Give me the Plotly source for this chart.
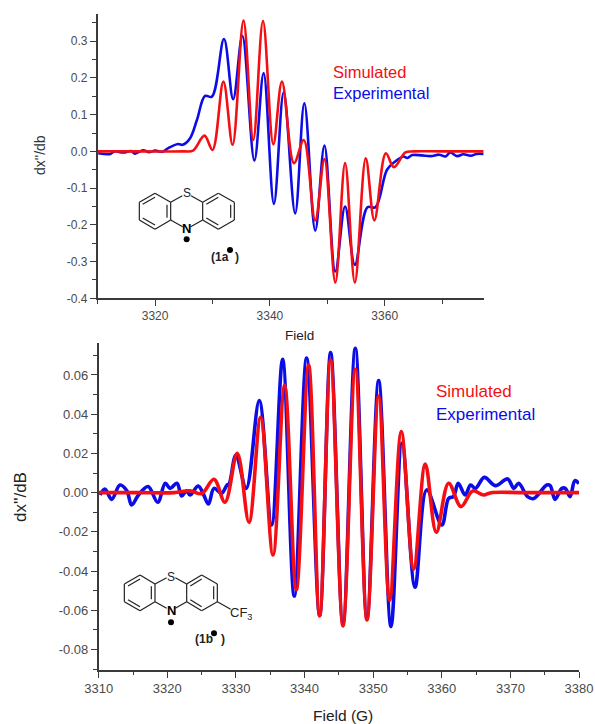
import plotly.graph_objects as go

W, H = 595, 724
RED = "#f40f14"
BLUE = "#0c0ce6"
AXC = "#3a3a3a"
TXT = "#4a4a4a"
FONT = "Liberation Sans, Arial, sans-serif"

# ---------- upper panel (1a) ----------
a_exp_x = [3310.1, 3312.2, 3312.9, 3314.5, 3315.8, 3316.5, 3317.9, 3319.0, 3320.0, 3321.3, 3322.3, 3324.0, 3324.8, 3326.1, 3327.3, 3328.7, 3329.9, 3332.0, 3333.6, 3335.2, 3337.3, 3338.9, 3340.7, 3342.4, 3344.4, 3346.0, 3347.9, 3349.5, 3351.4, 3353.1, 3354.8, 3357.0, 3358.4, 3360.4, 3361.8, 3363.3, 3363.9, 3364.8, 3366.5, 3368.0, 3369.5, 3370.6, 3371.4, 3372.6, 3373.7, 3375.0, 3376.0, 3377.2]
a_exp_y = [-.005, -.007, .0, -.003, .001, -.006, .003, -.002, .002, -.001, .009, .020, .018, .036, .086, .151, .149, .306, .142, .314, -.025, .213, -.143, .161, -.169, .131, -.216, .016, -.327, -.150, -.309, -.152, -.152, -.050, -.028, -.014, -.018, -.010, -.011, -.013, -.009, -.014, -.003, -.013, -.008, -.012, -.007, -.007]
a_sim_x = [3310, 3318, 3325, 3326.6, 3328.6, 3330.0, 3331.9, 3333.5, 3335.4, 3337.1, 3338.8, 3340.6, 3342.1, 3344.2, 3345.9, 3347.9, 3349.5, 3351.4, 3353.1, 3354.8, 3356.7, 3358.2, 3360.2, 3361.6, 3363.6, 3365, 3370, 3377.2]
a_sim_y = [0, 0, 0, .002, .043, .004, .190, .018, .356, .031, .355, .019, .190, -.032, .031, -.188, -.021, -.357, -.032, -.357, -.019, -.188, -.005, -.043, -.003, 0, 0, 0]

# ---------- lower panel (1b) ----------
b_exp_x = [3310.2, 3310.9, 3311.9, 3313.1, 3314.1, 3314.8, 3315.8, 3317.2, 3318.6, 3319.7, 3320.4, 3321.4, 3322.1, 3322.8, 3323.3, 3324.5, 3325.2, 3326.0, 3326.8, 3327.9, 3328.7, 3329.0, 3330.0, 3331.5, 3333.4, 3335.2, 3336.8, 3338.5, 3340.3, 3342.2, 3343.8, 3345.6, 3347.4, 3349.1, 3350.8, 3352.6, 3354.2, 3356.1, 3357.8, 3360.0, 3361.0, 3361.7, 3362.4, 3363.4, 3364.2, 3364.9, 3366.2, 3367.8, 3369.6, 3370.5, 3371.2, 3372.5, 3373.4, 3375.3, 3375.8, 3376.5, 3377.5, 3378.0, 3378.7, 3379.4, 3380.0]
b_exp_y = [-.0012, .0019, -.0034, .0039, .0010, -.0063, -.0012, .0031, -.0049, .0048, .0022, .0048, -.0017, .0010, -.0012, .0034, -.0003, -.0058, .0022, -.0003, .0039, .0044, .0192, .0022, .0469, -.0165, .0680, -.0527, .0686, -.0625, .0714, -.0666, .0736, -.0640, .0571, -.0683, .0253, -.0482, .0014, -.0165, -.0029, -.0020, .0048, -.0012, .0039, .0022, .0078, .0036, .0070, .0022, .0048, -.0020, -.0030, .0039, .0036, -.0034, .0022, .0022, -.0020, .0061, .0047]
b_sim_x = [3310, 3316, 3321, 3323.3, 3325.0, 3326.8, 3328.4, 3330.2, 3331.9, 3333.6, 3335.4, 3337.1, 3338.8, 3340.6, 3342.2, 3343.8, 3345.6, 3347.4, 3349.1, 3350.8, 3352.4, 3354.1, 3355.9, 3357.6, 3359.2, 3361.0, 3362.8, 3364.5, 3366.1, 3367.2, 3372, 3380]
b_sim_y = [0, 0, 0, .0010, -.0005, .0068, -.0049, .0201, -.0151, .0384, -.0318, .0549, -.0496, .0651, -.0628, .0676, -.0679, .0629, -.0649, .0493, -.0550, .0311, -.0389, .0146, -.0202, .0048, -.0071, .0009, -.0012, 0, 0, 0]

# ---------- tick labels ----------
a_xticks = [3320, 3340, 3360]
a_yticks = [-.4, -.3, -.2, -.1, 0, .1, .2, .3]
a_ylabels = ["-0.4", "-0.3", "-0.2", "-0.1", "0.0", "0.1", "0.2", "0.3"]
b_xticks = [3310, 3320, 3330, 3340, 3350, 3360, 3370, 3380]
b_yticks = [-.08, -.06, -.04, -.02, 0, .02, .04, .06]
b_ylabels = ["-0.08", "-0.06", "-0.04", "-0.02", "0.00", "0.02", "0.04", "0.06"]

fig = go.Figure()
def line(x, y, c, w, name, ax):
    fig.add_trace(go.Scatter(x=x, y=y, mode="lines", name=name, xaxis=ax[0], yaxis=ax[1],
                             line=dict(color=c, width=w, shape="spline", smoothing=1.0)))
line(a_exp_x, a_exp_y, BLUE, 2.6, "Experimental", ("x", "y"))
line(a_sim_x, a_sim_y, RED, 2.6, "Simulated", ("x", "y"))
line(b_exp_x, b_exp_y, BLUE, 3.6, "Experimental", ("x2", "y2"))
line(b_sim_x, b_sim_y, RED, 3.6, "Simulated", ("x2", "y2"))

def axis(**kw):
    d = dict(showgrid=False, zeroline=False, showline=True, linecolor=AXC, linewidth=1.5,
             ticks="outside", tickcolor=AXC, tickwidth=1.2, ticklen=6, automargin=False)
    d.update(kw)
    return d

shapes, annos = [], []
def px(x): return x / W
def py(y): return 1 - y / H
def seg(x0, y0, x1, y1, w=1.2, c="#222222"):
    shapes.append(dict(type="line", xref="paper", yref="paper", x0=px(x0), y0=py(y0), x1=px(x1), y1=py(y1),
                       line=dict(color=c, width=w)))
def dot(x, y, r=3.0):
    shapes.append(dict(type="circle", xref="paper", yref="paper", x0=px(x-r), x1=px(x+r), y0=py(y-r), y1=py(y+r),
                       fillcolor="#000000", line=dict(color="#000000", width=0)))
def text(x, y, t, size, color="#222222", **kw):
    annos.append(dict(xref="paper", yref="paper", x=px(x), y=py(y), text=t, showarrow=False,
                      font=dict(family=FONT, size=size, color=color), xanchor=kw.pop("xanchor", "center"),
                      yanchor="middle", **kw))

def molecule(ox, oy, L, R, S, N, inner_left, inner_right, bonds):
    for ring in (L, R):
        for i in range(6):
            a, b = ring[i], ring[(i + 1) % 6]
            seg(ox + a[0]/3, oy + a[1]/3, ox + b[0]/3, oy + b[1]/3)
    for a, b in inner_left + inner_right + bonds:
        seg(ox + a[0]/3, oy + a[1]/3, ox + b[0]/3, oy + b[1]/3)
    text(ox + S[0]/3, oy + S[1]/3, "S", 12)
    text(ox + N[0]/3, oy + N[1]/3, "<b>N</b>", 13, color="#000000")

# molecule 1a
molecule(120, 170,
         [(105,70),(152,97),(152,150),(105,178),(58,150),(58,97)],
         [(295,70),(343,97),(343,150),(295,178),(248,150),(248,97)],
         (200,68), (200,175),
         [((68,103),(105,82)), ((68,144),(105,165)), ((141,104),(141,143))],
         [((259,103),(295,82)), ((332,104),(332,143)), ((259,144),(295,165))],
         [((152,97),(187,77)), ((213,77),(248,97)), ((152,150),(188,170)), ((212,170),(248,150))])
dot(120+200/3, 170+208/3)
text(120+300/3, 170+260/3, "<b>(1a</b>", 12)
dot(120+330/3, 170+240/3)
text(120+351/3, 170+260/3, "<b>)</b>", 12)

# molecule 1b
molecule(110, 565,
         [(90,30),(135,57),(135,110),(90,137),(43,110),(43,57)],
         [(275,30),(322,57),(322,110),(275,137),(230,110),(230,57)],
         (183,35), (183,135),
         [((54,63),(90,42)), ((54,104),(90,125)), ((124,64),(124,103))],
         [((241,63),(275,42)), ((311,64),(311,103)), ((241,104),(275,125))],
         [((135,57),(170,38)), ((196,38),(230,57)), ((135,110),(170,130)), ((196,130),(230,110)), ((322,110),(362,133))])
text(110+394/3, 565+145/3, "CF<sub>3</sub>", 13)
dot(110+183/3, 565+172/3)
text(110+282/3, 565+222/3, "<b>(1b</b>", 12)
dot(110+312/3, 565+205/3)
text(110+338/3, 565+222/3, "<b>)</b>", 12)

# series names drawn beside the curves
text(331, 72, "Simulated", 16.5, color=RED, xanchor="left")
text(331, 93, "Experimental", 16.5, color=BLUE, xanchor="left")
text(434, 392, "Simulated", 17, color=RED, xanchor="left")
text(434, 414, "Experimental", 17, color=BLUE, xanchor="left")

# axis titles placed where the reference has them
text(299, 336, "Field", 13.5)
text(40, 155, "dx''/db", 14, color="#333333", textangle=-90)
text(343, 715, "Field (G)", 15.5)
text(20, 497, "dx''/dB", 17, textangle=-90)

fig.update_layout(
    width=W, height=H, margin=dict(l=0, r=0, t=0, b=0), autosize=False,
    paper_bgcolor="white", plot_bgcolor="white", showlegend=False,
    font=dict(family=FONT, color=TXT),
    shapes=shapes, annotations=annos,
    xaxis=axis(domain=[97.7/W, 484/W], range=[3310, 3377.3], tickvals=a_xticks, ticktext=[str(v) for v in a_xticks],
               minor=dict(dtick=10, tick0=3310, ticks="outside", ticklen=3.5, tickcolor=AXC, tickwidth=1.2),
               tickfont=dict(size=12, color=TXT), anchor="y"),
    yaxis=axis(domain=[1-298.3/H, 1-14/H], range=[-.4, .374], tickvals=a_yticks, ticktext=a_ylabels,
               minor=dict(dtick=.05, tick0=0, ticks="outside", ticklen=3.5, tickcolor=AXC, tickwidth=1.2),
               tickfont=dict(size=12, color=TXT), anchor="x"),
    xaxis2=axis(domain=[98.7/W, 579/W], range=[3310, 3380], tickvals=b_xticks, ticktext=[str(v) for v in b_xticks],
                minor=dict(dtick=5, tick0=3310, ticks="outside", ticklen=3.5, tickcolor=AXC, tickwidth=1.2),
                tickfont=dict(size=13, color=TXT), anchor="y2"),
    yaxis2=axis(domain=[1-670/H, 1-343/H], range=[-.0904, .0763], tickvals=b_yticks, ticktext=b_ylabels,
                minor=dict(dtick=.01, tick0=0, ticks="outside", ticklen=3.5, tickcolor=AXC, tickwidth=1.2),
                tickfont=dict(size=13, color=TXT), anchor="x2"),
)

fig.write_html("out.html", config=dict(displayModeBar=False),
               post_script="document.body.style.margin='0';document.body.style.overflow='hidden';")
